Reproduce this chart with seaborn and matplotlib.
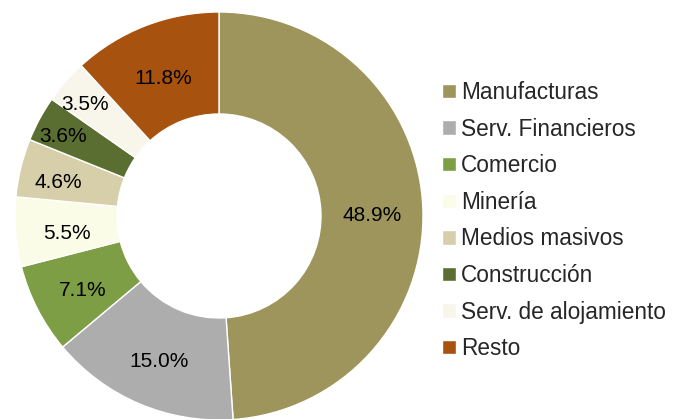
import numpy as np
import matplotlib
matplotlib.use("Agg")
import matplotlib.pyplot as plt
import seaborn as sns

sns.set_theme(style="white")
plt.rcParams['font.family'] = ['Liberation Sans', 'DejaVu Sans']

# Sectores y participación (%)
sectores = ["Manufacturas", "Serv. Financieros", "Comercio", "Minería",
            "Medios masivos", "Construcción", "Serv. de alojamiento", "Resto"]
valores = [48.9, 15.0, 7.1, 5.5, 4.6, 3.6, 3.5, 11.8]
colores = ["#9E955C", "#ADADAD", "#7E9E45", "#FAFCE8",
           "#D6CFAA", "#5B6E31", "#F8F6EA", "#A8520F"]

fig = plt.figure(figsize=(6.82, 4.19), dpi=100)
ax = fig.add_axes([15 / 682, (419 - 216 - 204) / 419, 408 / 682, 408 / 419])

wedges, texts, autotexts = ax.pie(
    valores, colors=colores, startangle=90, counterclock=False,
    autopct=lambda p: f"{p:.1f}%", pctdistance=0.75,
    wedgeprops=dict(width=0.5, edgecolor="white", linewidth=1),
    textprops=dict(fontsize=15, color="black"),
)

# small slices get their labels pushed outward, like the original
dist = [0.75, 0.75, 0.75, 0.75, 0.81, 0.87, 0.87, 0.75]
for w, t, d in zip(wedges, autotexts, dist):
    ang = np.deg2rad((w.theta1 + w.theta2) / 2)
    t.set_position((d * np.cos(ang), d * np.sin(ang) - 0.025))

ax.set_xlim(-1, 1)
ax.set_ylim(-1, 1)
ax.set_aspect("equal")
ax.axis("off")

fig.legend(wedges, sectores, loc="upper left",
           bbox_to_anchor=(433 / 682, 1 - 72 / 419),
           frameon=False, fontsize=16.3, handlelength=0.6, handleheight=0.6,
           handletextpad=0.25, labelspacing=0.60, borderaxespad=0)

fig.savefig("out.png", dpi=100)
